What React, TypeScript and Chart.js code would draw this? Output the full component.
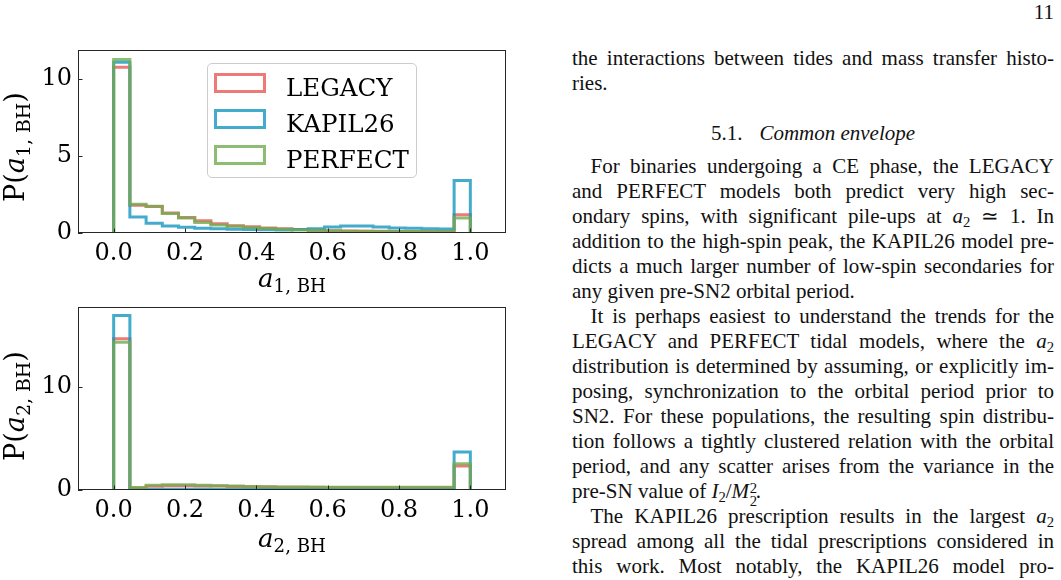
import React, { useEffect, useRef } from 'react';
import { Chart, registerables } from 'chart.js';

Chart.register(...registerables);

// ---- data -------------------------------------------------------------
const SERIES_NAMES = ['LEGACY', 'KAPIL26', 'PERFECT'];
const SERIES_COLORS = [
  'rgba(233, 88, 88, 0.8)',
  'rgba(20, 150, 190, 0.8)',
  'rgba(112, 172, 80, 0.8)',
];

// probability densities per bin (22 equal bins on [0, 1])
const A1_LEGACY = [10.78, 1.8, 1.72, 1.3, 1.0, 0.8, 0.6, 0.47, 0.4, 0.33, 0.27, 0.22, 0.18, 0.15, 0.13, 0.12, 0.11, 0.1, 0.1, 0.09, 0.09, 1.19];
const A1_KAPIL26 = [11.1, 1.04, 0.63, 0.46, 0.37, 0.31, 0.27, 0.24, 0.22, 0.21, 0.2, 0.22, 0.28, 0.39, 0.45, 0.46, 0.39, 0.32, 0.31, 0.27, 0.26, 3.42];
const A1_PERFECT = [11.28, 1.87, 1.74, 1.26, 0.98, 0.68, 0.52, 0.44, 0.35, 0.29, 0.24, 0.2, 0.17, 0.14, 0.12, 0.11, 0.1, 0.09, 0.09, 0.08, 0.08, 0.97];

const A2_LEGACY = [14.7, 0.2, 0.36, 0.42, 0.42, 0.4, 0.38, 0.34, 0.31, 0.29, 0.27, 0.26, 0.25, 0.24, 0.24, 0.23, 0.23, 0.23, 0.23, 0.23, 0.23, 2.33];
const A2_KAPIL26 = [16.98, 0.03, 0.06, 0.07, 0.07, 0.07, 0.06, 0.06, 0.05, 0.05, 0.05, 0.05, 0.05, 0.05, 0.05, 0.05, 0.05, 0.05, 0.05, 0.05, 0.05, 3.69];
const A2_PERFECT = [14.37, 0.24, 0.45, 0.5, 0.5, 0.47, 0.42, 0.38, 0.35, 0.32, 0.3, 0.29, 0.28, 0.27, 0.27, 0.27, 0.26, 0.26, 0.26, 0.26, 0.26, 2.56];

const X_TICKS = [0, 0.2, 0.4, 0.6, 0.8, 1.0];
const X_RANGE = [-0.1, 1.1];
const A1_Y_TICKS = [0, 5, 10];
const A2_Y_TICKS = [0, 10];
const A1_Y_MAX = 11.9;
const A2_Y_MAX = 17.8;

// ---- styling ------------------------------------------------------------
const MPL_FONT = '"DejaVu Serif", serif';
const TEXT_FONT = '"Liberation Serif", "Times New Roman", serif';
const CANVAS_W = 520;
const CANVAS_H = 250;

// closed step outline of a histogram, like histtype="step"
function stepOutline(counts: number[]) {
  const pts = [{ x: 0, y: 0 }];
  counts.forEach((c, i) => pts.push({ x: i / counts.length, y: c }));
  pts.push({ x: 1, y: 0 });
  return pts;
}

// axes frame on all four sides plus inward-pointing tick marks
const frameTicks = {
  id: 'frameTicks',
  afterDatasetsDraw(chart: any) {
    const { ctx, chartArea: a, scales } = chart;
    ctx.save();
    ctx.strokeStyle = '#262626';
    ctx.lineWidth = 1;
    ctx.beginPath();
    scales.x.ticks.forEach((t: any) => {
      const px = Math.round(scales.x.getPixelForValue(t.value)) + 0.5;
      ctx.moveTo(px, a.bottom);
      ctx.lineTo(px, a.bottom - 4.5);
    });
    scales.y.ticks.forEach((t: any) => {
      const py = Math.round(scales.y.getPixelForValue(t.value)) + 0.5;
      ctx.moveTo(a.left, py);
      ctx.lineTo(a.left + 4.5, py);
    });
    ctx.stroke();
    ctx.strokeRect(a.left + 0.5, a.top + 0.5, a.right - a.left - 1, a.bottom - a.top - 1);
    ctx.restore();
  },
};

type PanelProps = { top: number; series: number[][]; yTicks: number[]; yMax: number };

function HistogramPanel({ top, series, yTicks, yMax }: PanelProps) {
  const ref = useRef<HTMLCanvasElement>(null);

  useEffect(() => {
    const chart = new Chart(ref.current as HTMLCanvasElement, {
      type: 'line',
      data: {
        datasets: series.map((counts, i) => ({
          label: SERIES_NAMES[i],
          data: stepOutline(counts),
          borderColor: SERIES_COLORS[i],
          backgroundColor: 'transparent',
          borderWidth: 3,
          fill: false,
          stepped: true,
          pointRadius: 0,
          borderJoinStyle: 'miter',
          borderCapStyle: 'butt',
          order: series.length - 1 - i,
        })),
      },
      options: {
        animation: false,
        responsive: false,
        maintainAspectRatio: false,
        devicePixelRatio: 1,
        events: [],
        layout: { padding: { left: 0, right: 14, top: 10, bottom: 0 } },
        plugins: { legend: { display: false }, tooltip: { enabled: false } },
        scales: {
          x: {
            type: 'linear',
            bounds: 'data',
            min: X_RANGE[0],
            max: X_RANGE[1],
            afterBuildTicks: (axis: any) => {
              axis.ticks = X_TICKS.map((v) => ({ value: v }));
            },
            afterFit: (s: any) => {
              s.height = 57;
              s.paddingLeft = 0;
              s.paddingRight = 0;
            },
            grid: { display: false, drawTicks: false },
            border: { display: false },
            ticks: {
              font: { family: MPL_FONT, size: 24 },
              color: '#000',
              padding: 6,
              autoSkip: false,
              maxRotation: 0,
              minRotation: 0,
              callback: (v: any) => Number(v).toFixed(1),
            },
          },
          y: {
            type: 'linear',
            bounds: 'data',
            min: 0,
            max: yMax,
            afterBuildTicks: (axis: any) => {
              axis.ticks = yTicks.map((v) => ({ value: v }));
            },
            afterFit: (s: any) => {
              s.width = 78;
              s.paddingTop = 0;
              s.paddingBottom = 0;
            },
            grid: { display: false, drawTicks: false },
            border: { display: false },
            ticks: {
              font: { family: MPL_FONT, size: 24 },
              color: '#000',
              padding: 6,
              callback: (v: any) => String(v),
            },
          },
        },
      } as any,
      plugins: [frameTicks],
    });
    return () => chart.destroy();
  }, []);

  return (
    <canvas
      ref={ref}
      width={CANVAS_W}
      height={CANVAS_H}
      style={{ position: 'absolute', left: 0, top, width: CANVAS_W, height: CANVAS_H }}
    />
  );
}

function SpinSymbol({ index }: { index: number }) {
  return (
    <>
      <i>a</i>
      <span style={{ fontSize: '0.7em', verticalAlign: '-0.3em' }}>{`${index}, BH`}</span>
    </>
  );
}

function XTitle({ cx, cy, index }: { cx: number; cy: number; index: number }) {
  return (
    <div
      style={{
        position: 'absolute', left: cx, top: cy, transform: 'translate(-50%, -50%)',
        font: `26px ${MPL_FONT}`, whiteSpace: 'nowrap', lineHeight: '30px', color: '#000',
      }}
    >
      <SpinSymbol index={index} />
    </div>
  );
}

function YTitle({ cx, cy, index }: { cx: number; cy: number; index: number }) {
  return (
    <div
      style={{
        position: 'absolute', left: cx, top: cy, transform: 'translate(-50%, -50%) rotate(-90deg)',
        font: `27px ${MPL_FONT}`, whiteSpace: 'nowrap', lineHeight: '30px', color: '#000',
      }}
    >
      P(<SpinSymbol index={index} />)
    </div>
  );
}

function Legend() {
  return (
    <div
      style={{
        position: 'absolute', left: 207, top: 63, width: 210, height: 115,
        border: '1px solid #cccccc', borderRadius: 5, background: 'rgba(255,255,255,0.8)',
        boxSizing: 'border-box',
      }}
    >
      {SERIES_NAMES.map((name, i) => (
        <div key={name} style={{ position: 'absolute', left: 0, top: 9 + i * 36, height: 20, width: 200 }}>
          <span
            style={{
              position: 'absolute', left: 6, top: 0, width: 52, height: 20,
              border: `3px solid ${SERIES_COLORS[i]}`, boxSizing: 'border-box',
            }}
          />
          <span
            style={{
              position: 'absolute', left: 78, top: 0, height: 20, lineHeight: '20px',
              font: `24.5px ${MPL_FONT}`, color: '#000', whiteSpace: 'nowrap',
            }}
          >
            {name}
          </span>
        </div>
      ))}
    </div>
  );
}

// ---- text column ----------------------------------------------------------
const COL_LEFT = 572;
const COL_WIDTH = 482;
const LINE_H = 25;

const Sub = ({ children }: { children: React.ReactNode }) => (
  <span style={{ fontSize: '0.7em', verticalAlign: '-0.25em', lineHeight: 0 }}>{children}</span>
);
const A2 = () => (
  <>
    <i>a</i>
    <Sub>2</Sub>
  </>
);
const InertiaRatio = () => (
  <>
    <i>I</i>
    <Sub>2</Sub>/<i>M</i>
    <span style={{ position: 'relative', display: 'inline-block', width: '0.45em', height: '1em', fontSize: '0.7em', lineHeight: 1 }}>
      <span style={{ position: 'absolute', left: '0.05em', top: '-0.15em' }}>2</span>
      <span style={{ position: 'absolute', left: '0.05em', top: '0.75em' }}>2</span>
    </span>
  </>
);

type TextLine = { content: React.ReactNode; justify?: boolean; indent?: boolean };

const PARAGRAPH_LINES: TextLine[] = [
  { content: 'For binaries undergoing a CE phase, the LEGACY', justify: true, indent: true },
  { content: 'and PERFECT models both predict very high sec-', justify: true },
  { content: <>ondary spins, with significant pile-ups at <A2 /> ≃ 1.  In</>, justify: true },
  { content: 'addition to the high-spin peak, the KAPIL26 model pre-', justify: true },
  { content: 'dicts a much larger number of low-spin secondaries for', justify: true },
  { content: 'any given pre-SN2 orbital period.' },
  { content: 'It is perhaps easiest to understand the trends for the', justify: true, indent: true },
  { content: <>LEGACY and PERFECT tidal models, where the <A2 /></>, justify: true },
  { content: 'distribution is determined by assuming, or explicitly im-', justify: true },
  { content: 'posing, synchronization to the orbital period prior to', justify: true },
  { content: 'SN2. For these populations, the resulting spin distribu-', justify: true },
  { content: 'tion follows a tightly clustered relation with the orbital', justify: true },
  { content: 'period, and any scatter arises from the variance in the', justify: true },
  { content: <>pre-SN value of <InertiaRatio />.</> },
  { content: <>The KAPIL26 prescription results in the largest <A2 /></>, justify: true, indent: true },
  { content: 'spread among all the tidal prescriptions considered in', justify: true },
  { content: 'this work.  Most notably, the KAPIL26 model pro-', justify: true },
];

function Line({ top, line }: { top: number; line: TextLine }) {
  return (
    <div
      style={{
        position: 'absolute', left: COL_LEFT, top, width: COL_WIDTH, height: LINE_H,
        lineHeight: `${LINE_H}px`, textAlign: line.justify ? 'justify' : 'left',
        textAlignLast: line.justify ? 'justify' : 'left', textIndent: line.indent ? 18.5 : 0,
      }}
    >
      {line.content}
    </div>
  );
}

function TextColumn() {
  return (
    <div style={{ position: 'absolute', left: 0, top: 0, font: `21px ${TEXT_FONT}`, color: '#111' }}>
      <div style={{ position: 'absolute', left: 953, width: 101, top: 0, height: LINE_H, lineHeight: `${LINE_H}px`, textAlign: 'right' }}>
        11
      </div>
      <Line top={46} line={{ content: 'the interactions between tides and mass transfer histo-', justify: true }} />
      <Line top={71} line={{ content: 'ries.' }} />
      <div
        style={{
          position: 'absolute', left: COL_LEFT, top: 120.5, width: COL_WIDTH, height: LINE_H,
          lineHeight: `${LINE_H}px`, textAlign: 'center', whiteSpace: 'nowrap',
        }}
      >
        5.1.<i style={{ marginLeft: 17 }}>Common envelope</i>
      </div>
      {PARAGRAPH_LINES.map((line, i) => (
        <Line key={i} top={153.7 + i * LINE_H} line={line} />
      ))}
    </div>
  );
}

export default function App() {
  return (
    <div style={{ position: 'absolute', left: 0, top: 0, width: 1061, height: 580, overflow: 'hidden', background: '#fff' }}>
      <HistogramPanel top={40} series={[A1_LEGACY, A1_KAPIL26, A1_PERFECT]} yTicks={A1_Y_TICKS} yMax={A1_Y_MAX} />
      <HistogramPanel top={297} series={[A2_LEGACY, A2_KAPIL26, A2_PERFECT]} yTicks={A2_Y_TICKS} yMax={A2_Y_MAX} />
      <Legend />
      <XTitle cx={292} cy={282} index={1} />
      <YTitle cx={19} cy={147} index={1} />
      <XTitle cx={292} cy={542} index={2} />
      <YTitle cx={19} cy={406} index={2} />
      <TextColumn />
    </div>
  );
}
